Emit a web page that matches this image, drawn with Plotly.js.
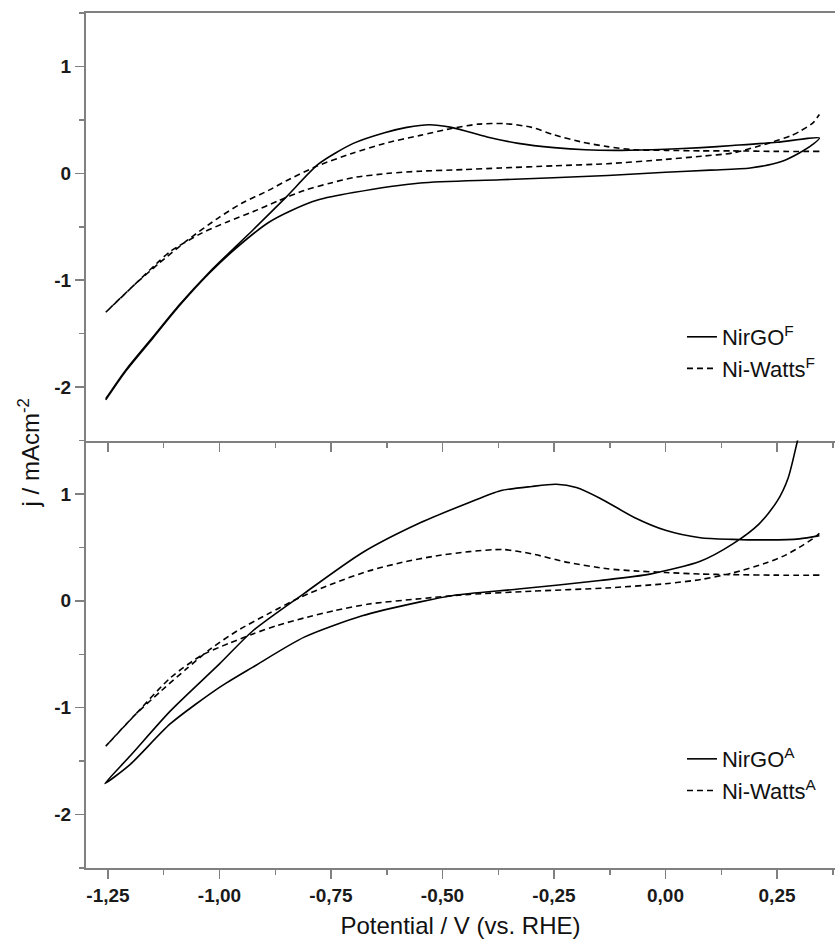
<!DOCTYPE html>
<html>
<head>
<meta charset="utf-8">
<script src="https://cdn.plot.ly/plotly-3.0.1.min.js"></script>
<style>html,body{margin:0;padding:0;background:#fff;}#chart{width:835px;height:939px;}</style>
</head>
<body>
<div id="chart"></div>
<script>
// ---- Top panel (F) ----
// NirGO^F : steep branch up to the right end, then lower branch back
const nirgoF_V = [-1.255,-1.21,-1.149,-1.09,-1.024,-0.965,-0.925,-0.85,-0.777,-0.70,-0.63,-0.58,-0.53,-0.48,-0.40,-0.33,-0.25,-0.18,-0.10,0.0,0.08,0.15,0.25,0.345,
                  0.33,0.30,0.26,0.19,0.10,0.0,-0.13,-0.37,-0.55,-0.70,-0.78,-0.84,-0.89,-0.96,-1.024,-1.09,-1.149,-1.21,-1.255];
const nirgoF_j = [-2.11,-1.84,-1.53,-1.23,-0.93,-0.69,-0.53,-0.22,0.09,0.28,0.38,0.43,0.455,0.43,0.34,0.28,0.24,0.22,0.215,0.225,0.24,0.26,0.29,0.33,
                  0.27,0.19,0.11,0.05,0.03,0.01,-0.02,-0.06,-0.09,-0.18,-0.25,-0.35,-0.46,-0.69,-0.94,-1.24,-1.54,-1.85,-2.12];
// Ni-Watts^F : upper branch from right to left, then lower branch left to right
const wattsF_V = [0.345,0.25,0.15,0.08,0.0,-0.07,-0.13,-0.185,-0.25,-0.30,-0.36,-0.42,-0.48,-0.55,-0.63,-0.70,-0.78,-0.85,-0.89,-0.95,-1.0,-1.07,-1.135,-1.19,-1.255,
                  -1.19,-1.14,-1.11,-1.04,-0.98,-0.925,-0.87,-0.81,-0.75,-0.70,-0.62,-0.55,-0.45,-0.37,-0.25,-0.13,0.0,0.08,0.15,0.23,0.28,0.30,0.33,0.345];
const wattsF_j = [0.205,0.205,0.21,0.21,0.215,0.22,0.25,0.29,0.36,0.43,0.465,0.46,0.42,0.355,0.28,0.19,0.07,-0.07,-0.16,-0.28,-0.41,-0.62,-0.84,-1.04,-1.30,
                  -1.04,-0.84,-0.73,-0.56,-0.45,-0.36,-0.26,-0.16,-0.09,-0.04,0.0,0.02,0.035,0.05,0.07,0.09,0.13,0.16,0.19,0.28,0.35,0.39,0.47,0.55];

// ---- Bottom panel (A) ----
const nirgoA_V = [0.345,0.30,0.23,0.15,0.078,0.0,-0.07,-0.147,-0.20,-0.245,-0.30,-0.37,-0.44,-0.55,-0.68,-0.81,-0.925,-1.0,-1.11,-1.20,-1.257,
                  -1.20,-1.11,-1.0,-0.925,-0.81,-0.68,-0.55,-0.476,-0.33,-0.147,-0.035,0.078,0.15,0.21,0.25,0.275,0.296,0.31];
const nirgoA_j = [0.61,0.58,0.57,0.575,0.59,0.66,0.78,0.96,1.06,1.09,1.07,1.03,0.92,0.73,0.45,0.07,-0.28,-0.59,-1.03,-1.45,-1.71,
                  -1.53,-1.15,-0.81,-0.62,-0.34,-0.14,-0.01,0.05,0.11,0.19,0.25,0.37,0.53,0.72,0.93,1.15,1.5,1.75];
const wattsA_V = [0.345,0.25,0.15,0.078,0.0,-0.07,-0.13,-0.22,-0.30,-0.365,-0.44,-0.515,-0.59,-0.665,-0.74,-0.82,-0.89,-0.96,-1.02,-1.075,-1.13,-1.19,-1.255,
                  -1.19,-1.11,-1.04,-0.98,-0.925,-0.87,-0.81,-0.74,-0.665,-0.55,-0.44,-0.30,-0.133,0.0,0.08,0.15,0.23,0.27,0.30,0.33,0.345];
const wattsA_j = [0.24,0.24,0.245,0.25,0.265,0.28,0.30,0.36,0.44,0.48,0.46,0.42,0.36,0.28,0.17,0.03,-0.12,-0.28,-0.45,-0.64,-0.84,-1.07,-1.36,
                  -1.07,-0.72,-0.51,-0.40,-0.31,-0.23,-0.16,-0.09,-0.03,0.02,0.06,0.09,0.12,0.16,0.20,0.26,0.36,0.43,0.50,0.58,0.63];

const xTickVals = [-1.25,-1.0,-0.75,-0.5,-0.25,0.0,0.25];
const xTickText = ['-1,25','-1,00','-0,75','-0,50','-0,25','0,00','0,25'];
const yTickVals = [-2,-1,0,1];
const yTickText = ['-2','-1','0','1'];

const FONT = 'Liberation Sans, Arial, sans-serif';
const solid = {color:'#000', width:1.6, dash:'solid', shape:'spline', smoothing:0.7};
const dashed = {color:'#000', width:1.6, dash:'6px,4px', shape:'spline', smoothing:0.7};

const traces = [
  {x:nirgoF_V, y:nirgoF_j, xaxis:'x', yaxis:'y', mode:'lines', line:solid, name:'NirGO<sup>F</sup>', legend:'legend'},
  {x:wattsF_V, y:wattsF_j, xaxis:'x', yaxis:'y', mode:'lines', line:dashed, name:'Ni-Watts<sup>F</sup>', legend:'legend'},
  {x:nirgoA_V, y:nirgoA_j, xaxis:'x2', yaxis:'y2', mode:'lines', line:solid, name:'NirGO<sup>A</sup>', legend:'legend2'},
  {x:wattsA_V, y:wattsA_j, xaxis:'x2', yaxis:'y2', mode:'lines', line:dashed, name:'Ni-Watts<sup>A</sup>', legend:'legend2'}
];

const AX = '#808080';
const tickFont = {family:FONT, size:19, color:'#1a1a1a', weight:'bold'};
const xCommon = {
  range:[-1.2993,0.380], showline:true, linecolor:AX, linewidth:2, showgrid:false, zeroline:false,
  ticks:'outside', ticklen:9, tickwidth:1.5, tickcolor:AX, tickvals:xTickVals, ticktext:xTickText,
  minor:{dtick:0.125, tick0:0, ticks:'outside', ticklen:5, tickwidth:1.5, tickcolor:AX, showgrid:false}
};
const yCommon = {
  range:[-2.5,1.5], showline:true, linecolor:AX, linewidth:2, showgrid:false, zeroline:false,
  ticks:'outside', ticklen:9, tickwidth:1.5, tickcolor:AX, tickvals:yTickVals, ticktext:yTickText,
  tickfont:tickFont,
  minor:{dtick:0.5, tick0:0, ticks:'outside', ticklen:5, tickwidth:1.5, tickcolor:AX, showgrid:false}
};

const layout = {
  width:835, height:939,
  margin:{l:86, r:0, t:13, b:71},
  paper_bgcolor:'#fff', plot_bgcolor:'#fff',
  font:{family:FONT, color:'#111'},
  showlegend:true,
  xaxis:Object.assign({}, xCommon, {anchor:'y', mirror:true, showticklabels:false, matches:'x2'}),
  yaxis:Object.assign({}, yCommon, {domain:[0.5,1], anchor:'x'}),
  xaxis2:Object.assign({}, xCommon, {anchor:'y2', showticklabels:true,
    tickfont:tickFont,
    title:{text:'Potential / V (vs. RHE)', font:{family:FONT, size:24, color:'#111'}, standoff:12}}),
  yaxis2:Object.assign({}, yCommon, {domain:[0,0.5], anchor:'x2'}),
  legend:{x:0.7957, y:0.6456, xanchor:'left', yanchor:'top', bgcolor:'rgba(0,0,0,0)', borderwidth:0,
          font:{family:FONT, size:22, color:'#111'}},
  legend2:{x:0.7957, y:0.152, xanchor:'left', yanchor:'top', bgcolor:'rgba(0,0,0,0)', borderwidth:0,
          font:{family:FONT, size:22, color:'#111'}},
  annotations:[{
    text:'j / mAcm<sup>-2</sup>', xref:'paper', yref:'paper', x:-0.076, y:0.485,
    xanchor:'center', yanchor:'middle', textangle:-90, showarrow:false,
    font:{family:FONT, size:24, color:'#111'}
  }]
};

Plotly.newPlot('chart', traces, layout, {staticPlot:true, displayModeBar:false});
</script>
</body>
</html>
